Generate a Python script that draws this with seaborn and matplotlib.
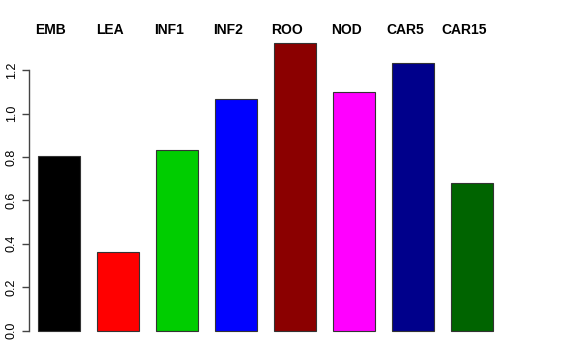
import matplotlib
matplotlib.use("Agg")
import matplotlib.pyplot as plt
import seaborn as sns

# data
categories = ["EMB", "LEA", "INF1", "INF2", "ROO", "NOD", "CAR5", "CAR15"]
values = [0.805, 0.360, 0.832, 1.066, 1.324, 1.101, 1.232, 0.680]
bar_colors = ["#000000", "#FF0000", "#00CD00", "#0000FF",
              "#8B0000", "#FF00FF", "#00008B", "#006400"]
y_ticks = [0.0, 0.2, 0.4, 0.6, 0.8, 1.0, 1.2]

sns.set_style("white")
plt.rcParams["font.family"] = ["Liberation Sans", "DejaVu Sans"]
plt.rcParams["text.color"] = "black"
plt.rcParams["ytick.labelcolor"] = "black"

W, H = 576, 360
fig = plt.figure(figsize=(W / 100, H / 100), dpi=100)

# axes placed in pixel terms so the bars land where the reference has them
left_px, right_px, top_px, bot_px = 29, 540, 20, 345
ax = fig.add_axes([left_px / W, 1 - bot_px / H,
                   (right_px - left_px) / W, (bot_px - top_px) / H])

sns.barplot(x=categories, y=values, hue=categories, palette=bar_colors,
            width=0.717, edgecolor="#333333", linewidth=0.8,
            saturation=1, legend=False, ax=ax)

step = 59.0
zero_px = 330.5
scale = 216.9
ax.set_xlim((left_px - step) / step, (right_px - step) / step)
ax.set_ylim(-(bot_px - zero_px) / scale, (zero_px - top_px) / scale)

# R style axis: only left spine, clipped to tick range
for s in ["top", "right", "bottom"]:
    ax.spines[s].set_visible(False)
ax.spines["left"].set_bounds(0, 1.2)
ax.spines["left"].set_color("#444444")
ax.spines["left"].set_linewidth(1.0)
ax.set_yticks(y_ticks)
ax.set_yticklabels([f"{t:.1f}" for t in y_ticks], rotation=90, va="center")
ax.tick_params(axis="y", left=True, length=5, width=1.0, color="#444444",
               pad=3, labelsize=9, labelcolor="black")
ax.set_xticks([])
ax.set_xlabel("")
ax.set_ylabel("")

# group names over the bars
label_y = (zero_px - 33.5) / scale
for i, name in enumerate(categories):
    ax.text(i - 8 / step, label_y, name, ha="center", va="baseline",
            fontsize=10, fontweight="bold", color="black", clip_on=False)

fig.savefig("out.png", dpi=100)
